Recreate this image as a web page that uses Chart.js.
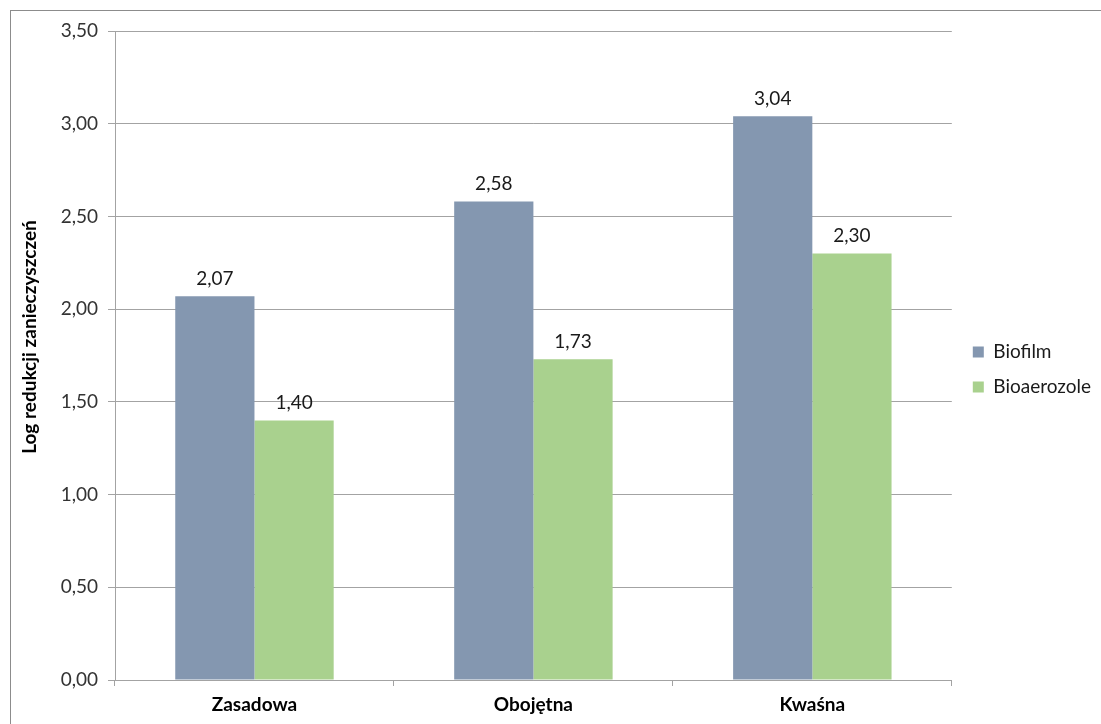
<!DOCTYPE html>
<html>
<head>
<meta charset="utf-8">
<script src="https://cdn.jsdelivr.net/npm/chart.js@4.4.1/dist/chart.umd.min.js"></script>
<style>
    html, body { margin: 0; padding: 0; background: #fff; }
    #wrap { position: relative; width: 1101px; height: 724px; overflow: hidden; }
    #frame {
        position: absolute; left: 10px; top: 10px; width: 1200px; height: 800px;
        border-left: 1px solid #8c8c8c; border-top: 1px solid #8c8c8c;
    }
    canvas { position: absolute; left: 0; top: 0; }
</style>
</head>
<body>
<div id="wrap">
    <div id="frame"></div>
    <canvas id="chart" width="1101" height="724"></canvas>
</div>
<script>
// dane
const categories = ['Zasadowa', 'Obojętna', 'Kwaśna'];
const biofilm = [2.07, 2.58, 3.04];
const bioaerozole = [1.40, 1.73, 2.30];
const seriesNames = ['Biofilm', 'Bioaerozole'];
const yTitle = 'Log redukcji zanieczyszczeń';

const FONT = 'Lato, "Open Sans", sans-serif';
const GRID = '#a3a3a3';

const fmt = v => v.toFixed(2).replace('.', ',');

// etykiety wartości nad słupkami
const valueLabels = {
    id: 'valueLabels',
    afterDatasetsDraw(chart) {
        const ctx = chart.ctx;
        ctx.save();
        ctx.font = '19px ' + FONT;
        ctx.fillStyle = '#1a1a1a';
        ctx.textAlign = 'center';
        ctx.textBaseline = 'bottom';
        chart.data.datasets.forEach((ds, i) => {
            chart.getDatasetMeta(i).data.forEach((bar, j) => {
                ctx.fillText(fmt(ds.data[j]), bar.x, bar.y - 8);
            });
        });
        ctx.restore();
    }
};

// legenda trochę wyżej i w prawo, jak w Excelu
const legendShift = {
    id: 'legendShift',
    afterLayout(chart) {
        const lg = chart.legend;
        lg.top -= 8; lg.bottom -= 8;
        lg.left += 5; lg.right += 5;
    }
};

new Chart(document.getElementById('chart'), {
    type: 'bar',
    data: {
        labels: categories,
        datasets: [
            { label: seriesNames[0], data: biofilm, backgroundColor: '#8497b0' },
            { label: seriesNames[1], data: bioaerozole, backgroundColor: '#a9d18e' }
        ]
    },
    options: {
        responsive: false,
        animation: false,
        layout: { padding: { left: 18, top: 31, right: 5, bottom: 0 } },
        datasets: { bar: { categoryPercentage: 0.568, barPercentage: 1 } },
        plugins: {
            tooltip: { enabled: false },
            legend: {
                position: 'right',
                labels: {
                    font: { family: FONT, size: 19 },
                    color: '#1a1a1a',
                    boxWidth: 11,
                    boxHeight: 11,
                    padding: 16
                }
            }
        },
        scales: {
            x: {
                grid: { display: true, drawOnChartArea: false, offset: true, tickLength: 6, color: GRID },
                border: { color: GRID },
                ticks: { font: { family: FONT, size: 19, weight: 'bold' }, color: '#000', padding: 7 },
                afterFit(scale) { scale.height = 44; }
            },
            y: {
                min: 0, max: 3.5,
                ticks: {
                    stepSize: 0.5, padding: 10,
                    font: { family: FONT, size: 19 }, color: '#333',
                    callback: v => fmt(v)
                },
                grid: { color: GRID, tickLength: 7 },
                border: { color: GRID },
                title: {
                    display: true, text: '\u00a0\u00a0\u00a0\u00a0\u00a0\u00a0\u00a0\u00a0' + yTitle, color: '#000',
                    font: { family: FONT, size: 19, weight: 'bold' },
                    padding: { top: 0, bottom: 0 }
                },
                afterFit(scale) { scale.width = 97; }
            }
        }
    },
    plugins: [valueLabels, legendShift]
});
</script>
</body>
</html>
